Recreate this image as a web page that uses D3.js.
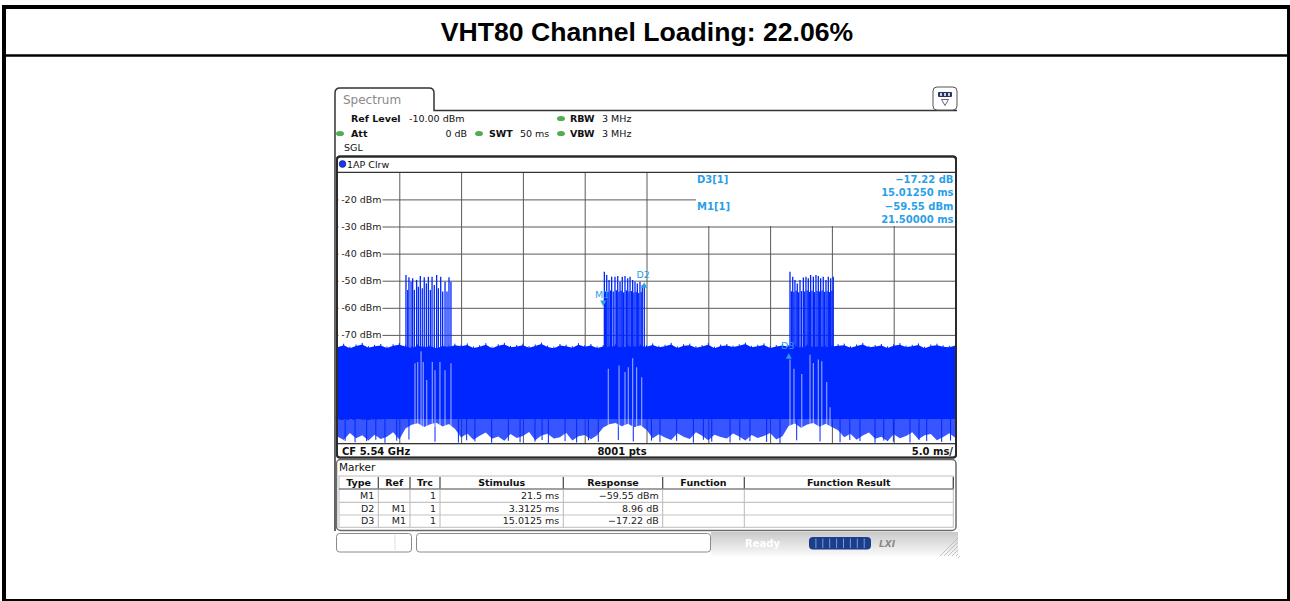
<!DOCTYPE html>
<html>
<head>
<meta charset="utf-8">
<script src="https://cdn.jsdelivr.net/npm/d3@7"></script>
<style>
  body { margin: 0; background: #fff; }
  svg { display: block; }
  text { font-family: "DejaVu Sans", Verdana, sans-serif; }
</style>
</head>
<body>
<svg id="chart" width="1290" height="601"></svg>
<script>
// ---- data ----
const title = 'VHT80 Channel Loading: 22.06%';
const sweepMs = [0, 50];           // 10 div x 5.0 ms
const levelDbm = [-10, -110];      // ref level, 10 div x 10 dB
const levelTicks = [-20, -30, -40, -50, -60, -70, -80, -90, -100];
const timeTicks = [5, 10, 15, 20, 25, 30, 35, 40, 45];

// noise floor envelope, sampled every 0.5 ms (0 .. 50 ms)
const noiseStep = 0.5;
const noiseTop = [
  -74.6,-73.8,-74.9,-74.1,-73.5,-74.7,-74.2,-73.9,-74.8,-74.0,-73.6,
  -74.3,-74.8,-74.0,-74.6,-74.2,-74.9,-74.1,-74.5,-73.8,
  -74.2,-73.7,-74.8,-74.4,-73.6,-74.9,-74.0,-73.5,-74.6,-74.3,-73.8,-74.7,-74.1,-73.4,-74.5,-74.9,-73.9,-74.2,-74.7,-73.6,-74.4,-73.9,-74.8,
  -74.3,-74.6,-74.0,-74.7,-74.2,-74.5,-74.1,-74.4,
  -73.7,-74.6,-74.2,-73.5,-74.8,-74.0,-73.8,-74.7,-74.3,-73.6,-74.9,-74.1,-73.9,-74.5,-74.0,-73.4,-74.6,-74.2,-73.7,-74.8,-74.3,-73.9,
  -74.4,-74.1,-74.7,-74.0,-74.5,-74.2,-74.6,-74.3,-74.0,
  -73.8,-74.7,-74.1,-73.5,-74.6,-74.3,-73.9,-74.8,-74.0,-73.6,-74.5,-74.2,-73.7,-74.9,-74.1,-73.8,-74.4,-74.6,-73.9
];
const denseFloor = -101;
const noiseLow = [
  -107.5,-108.8,-106.2,-108.1,-107.0,-109.0,-106.8,-108.4,-107.6,-105.9,-108.6,
  -104.5,-103.2,-102.6,-104.0,-103.0,-102.4,-103.8,-102.9,-104.6,
  -107.9,-106.4,-108.7,-107.2,-106.0,-108.3,-107.5,-109.1,-106.6,-108.0,-107.3,-105.8,-108.9,-107.1,-106.5,-108.2,-107.8,-106.1,-109.0,-107.4,-106.9,-108.5,-107.0,
  -104.2,-103.0,-102.5,-103.7,-102.8,-104.1,-103.3,-105.0,
  -108.1,-106.7,-107.9,-108.8,-106.3,-107.6,-108.4,-105.9,-107.2,-108.9,-106.8,-107.7,-108.2,-106.4,-107.5,-109.0,-106.9,-108.0,-107.3,-106.2,-108.6,-107.4,
  -103.6,-102.7,-104.3,-103.1,-102.5,-103.9,-102.8,-104.0,-105.2,
  -107.8,-106.5,-108.7,-107.1,-106.0,-108.3,-107.6,-109.2,-106.7,-108.1,-107.3,-105.9,-108.5,-107.0,-106.6,-108.9,-107.7,-106.3,-108.0
];
// single deep dips of the noise [ms, dBm]
const deepDips = [
  [0.62,-109.1],[1.42,-109.6],[2.36,-109.2],[3.10,-108.7],[3.84,-109.8],[4.79,-109.0],[5.78,-108.6],[7.89,-109.4],[9.78,-109.7],
  [10.45,-108.9],[11.12,-109.3],[12.47,-109.8],[13.82,-109.1],[14.77,-109.6],[15.98,-109.4],[16.55,-108.8],[17.06,-109.9],[18.41,-109.2],
  [19.35,-109.7],[20.30,-108.9],[21.1,-109.5],[22.72,-108.8],[23.93,-109.3],[25.40,-109.0],[26.09,-109.6],[27.44,-109.1],[28.79,-109.8],
  [29.60,-108.7],[30.28,-109.4],[31.76,-109.7],[32.55,-108.9],[33.37,-109.2],[34.72,-109.5],[35.8,-109.9],[37.15,-108.9],[39.04,-109.3],
  [40.66,-109.6],[41.45,-108.8],[42.27,-109.2],[43.49,-109.8],[44.20,-109.0],[44.97,-109.4],[46.32,-109.7],[47.05,-108.8],[47.67,-109.1],
  [48.88,-109.5],[49.60,-109.0]
];

// packet bursts: [ms, peak dBm]
const burst1 = [
  [5.54,-47.9],[5.68,-53.4],[5.78,-48.7],[5.95,-50.4],[6.08,-49.1],[6.22,-53.4],[6.40,-49.7],[6.54,-52.2],
  [6.70,-48.3],[6.86,-52.8],[7.02,-48.7],[7.19,-51.0],[7.35,-48.5],[7.51,-53.4],[7.65,-48.5],[7.83,-51.6],
  [8.02,-47.9],[8.16,-52.8],[8.35,-48.5],[8.51,-54.0],[8.70,-50.4],[8.86,-54.0],[9.02,-48.7],[9.18,-50.4]
];
const burst2 = [
  [21.59,-46.7],[21.69,-53.8],[21.78,-47.9],[21.88,-54.2],[21.97,-49.7],[22.08,-53.6],[22.18,-48.5],[22.31,-54.0],
  [22.45,-48.5],[22.56,-53.5],[22.67,-48.3],[22.77,-54.1],[22.86,-50.4],[22.95,-53.7],[23.04,-48.5],[23.15,-54.3],
  [23.26,-48.3],[23.37,-53.6],[23.48,-49.1],[23.58,-54.0],[23.67,-48.5],[23.78,-53.8],[23.88,-49.7],[23.98,-54.4],
  [24.07,-50.4],[24.17,-54.1],[24.26,-51.0],[24.37,-54.5],[24.47,-50.4],[24.57,-54.2],[24.66,-51.6],[24.82,-52.2]
];
const burst3 = [
  [36.61,-46.7],[36.72,-53.9],[36.83,-48.5],[36.92,-54.2],[37.01,-49.7],[37.11,-53.7],[37.20,-51.0],[37.31,-54.3],
  [37.42,-49.7],[37.55,-53.8],[37.69,-48.8],[37.80,-54.0],[37.90,-48.5],[38.00,-53.6],[38.09,-49.1],[38.18,-54.1],
  [38.28,-47.9],[38.39,-53.7],[38.50,-48.5],[38.60,-54.2],[38.71,-47.9],[38.80,-53.8],[38.90,-48.3],[39.00,-54.0],
  [39.09,-49.1],[39.20,-53.6],[39.30,-48.5],[39.41,-54.1],[39.52,-49.7],[39.61,-53.9],[39.71,-48.5],[39.80,-54.2],
  [39.90,-49.1],[40.00,-53.7],[40.11,-48.5]
];
// lighter columns inside the noise band during bursts [ms, top dBm]
const burstGaps = [
  [6.27,-80.5],[6.49,-80.0],[6.76,-76.0],[6.94,-80.0],[7.22,-86.6],[7.67,-80.0],[7.89,-83.0],[8.29,-80.0],[8.70,-83.0],[9.18,-80.5],
  [21.91,-82.5],[22.78,-81.3],[23.26,-83.7],[23.53,-81.9],[23.88,-78.6],[24.20,-81.9],[24.61,-85.6],
  [36.61,-79.1],[36.93,-82.5],[37.56,-84.4],[38.23,-77.3],[38.50,-80.4],[38.90,-79.1],[39.18,-79.7],[39.58,-87.4],[39.85,-96.7]
];

// markers
const markers = [
  { name: 'M1', t: 21.5, level: -59.55, kind: 'abs' },
  { name: 'D2', t: 21.5 + 3.3125, level: -59.55 + 8.96, kind: 'delta' },
  { name: 'D3', t: 21.5 + 15.0125, level: -59.55 - 17.22, kind: 'delta' }
];
const markerInfoLeft = ['D3[1]', '', 'M1[1]', ''];
const markerInfoRight = ['\u221217.22 dB', '15.01250 ms', '\u221259.55 dBm', '21.50000 ms'];

// marker table
const tableHeads = ['Type', 'Ref', 'Trc', 'Stimulus', 'Response', 'Function', 'Function Result'];
const tableRows = [
  ['M1', '', '1', '21.5 ms', '\u221259.55 dBm', '', ''],
  ['D2', 'M1', '1', '3.3125 ms', '8.96 dB', '', ''],
  ['D3', 'M1', '1', '15.0125 ms', '\u221217.22 dB', '', '']
];

// instrument settings text
const settings = { ref: '-10.00 dBm', att: '0 dB', swt: '50 ms', rbw: '3 MHz', vbw: '3 MHz' };
const footer = { cf: 'CF 5.54 GHz', pts: '8001 pts', div: '5.0 ms/' };

// ---- drawing ----
const svg = d3.select('#chart');
const TRACE = '#0026ff';
const MK = '#2c9fe6';
const GRID = '#5a5a5a';

const x = d3.scaleLinear().domain(sweepMs).range([337.5, 955.5]);
const y = d3.scaleLinear().domain(levelDbm).range([172.3, 443.3]);

// outer page frame + title
svg.append('rect').attr('x', 4).attr('y', 7).attr('width', 1285).attr('height', 594)
  .attr('fill', '#fff').attr('stroke', '#000').attr('stroke-width', 4);
svg.append('line').attr('x1', 4).attr('x2', 1289).attr('y1', 55.5).attr('y2', 55.5)
  .attr('stroke', '#000').attr('stroke-width', 2.5);
svg.append('text').attr('x', 647).attr('y', 40.5).attr('text-anchor', 'middle')
  .style('font-family', '"Liberation Sans", Arial, sans-serif')
  .attr('font-weight', 'bold').attr('font-size', 26.6).text(title);

// tab outline
svg.append('path')
  .attr('d', 'M335,531 V93 Q335,88 340,88 H429 Q434,88 434,93 V110.5 H957')
  .attr('fill', 'none').attr('stroke', '#333').attr('stroke-width', 1.5);
svg.append('text').attr('x', 343).attr('y', 104).attr('font-size', 12).attr('fill', '#8a8a8a').text('Spectrum');

// top-right icon
const icon = svg.append('g');
icon.append('rect').attr('x', 933).attr('y', 87).attr('width', 24).attr('height', 23).attr('rx', 4)
  .attr('fill', '#fff').attr('stroke', '#555').attr('stroke-width', 1);
icon.append('rect').attr('x', 938).attr('y', 92).attr('width', 14).attr('height', 5).attr('rx', 1).attr('fill', '#2a3560');
[941, 945, 949].forEach(v => icon.append('rect').attr('x', v - 1).attr('y', 93).attr('width', 2).attr('height', 3).attr('fill', '#c8d0e8'));
icon.append('path').attr('d', 'M941.5,99.5 L948.5,99.5 L945,105.5 Z').attr('fill', 'none').attr('stroke', '#556').attr('stroke-width', 0.9);

// settings header
const hdr = svg.append('g').attr('font-size', 9.5).attr('fill', '#111');
const dot = (cx, cy) => svg.append('ellipse').attr('cx', cx).attr('cy', cy).attr('rx', 4).attr('ry', 2.6).attr('fill', '#52ad52');
hdr.append('text').attr('x', 351).attr('y', 122).attr('font-weight', 'bold').text('Ref Level');
hdr.append('text').attr('x', 409).attr('y', 122).text(settings.ref);
dot(561, 118.5);
hdr.append('text').attr('x', 570).attr('y', 122).attr('font-weight', 'bold').text('RBW');
hdr.append('text').attr('x', 602).attr('y', 122).text(settings.rbw);
dot(340, 133.5);
hdr.append('text').attr('x', 351).attr('y', 137).attr('font-weight', 'bold').text('Att');
hdr.append('text').attr('x', 467).attr('y', 137).attr('text-anchor', 'end').text(settings.att);
dot(479, 133.5);
hdr.append('text').attr('x', 489).attr('y', 137).attr('font-weight', 'bold').text('SWT');
hdr.append('text').attr('x', 520).attr('y', 137).text(settings.swt);
dot(561, 133.5);
hdr.append('text').attr('x', 570).attr('y', 137).attr('font-weight', 'bold').text('VBW');
hdr.append('text').attr('x', 602).attr('y', 137).text(settings.vbw);
hdr.append('text').attr('x', 344).attr('y', 151).text('SGL');

// trace panel
svg.append('rect').attr('x', 337).attr('y', 156.5).attr('width', 619).attr('height', 301).attr('rx', 3)
  .attr('fill', '#fff').attr('stroke', '#2a2a2a').attr('stroke-width', 2);
svg.append('circle').attr('cx', 342.5).attr('cy', 164).attr('r', 3.4).attr('fill', '#1a36e6').attr('stroke', '#10208a').attr('stroke-width', 0.6);
svg.append('text').attr('x', 347).attr('y', 167.5).attr('font-size', 9.5).attr('fill', '#111').text('1AP Clrw');

const plot = svg.append('g');
// grid via axes
plot.append('g').attr('transform', `translate(0,${y(levelDbm[1])})`)
  .call(d3.axisTop(x).tickValues(timeTicks).tickSize(y(levelDbm[1]) - y(levelDbm[0])).tickFormat(''))
  .call(g => g.select('.domain').remove())
  .call(g => g.selectAll('line').attr('stroke', GRID));
plot.append('g').attr('transform', `translate(${x(sweepMs[0])},0)`)
  .call(d3.axisRight(y).tickValues(levelTicks).tickSize(x(sweepMs[1]) - x(sweepMs[0])).tickFormat(''))
  .call(g => g.select('.domain').remove())
  .call(g => g.selectAll('line').attr('stroke', GRID));

// level labels with white backing
const lab = plot.selectAll('g.lvl').data(levelTicks).join('g').attr('class', 'lvl')
  .attr('transform', d => `translate(0,${y(d)})`);
lab.append('rect').attr('x', 338.5).attr('y', -5.5).attr('width', 44).attr('height', 11).attr('fill', '#fff');
lab.append('text').attr('x', 381.5).attr('y', 3.5).attr('text-anchor', 'end').attr('font-size', 9.5).attr('fill', '#222')
  .text(d => `${d} dBm`);

// plot frame lines
plot.append('line').attr('x1', 337).attr('x2', 956).attr('y1', y(levelDbm[0])).attr('y2', y(levelDbm[0]))
  .attr('stroke', '#333').attr('stroke-width', 1.2);

// ---- trace ----
const trace = svg.append('g');
const tIdx = i => i * noiseStep;
// dense part of the noise band
trace.append('path')
  .datum(noiseTop)
  .attr('d', d3.area().x((d, i) => x(tIdx(i))).y0(y(denseFloor)).y1(d => y(d)))
  .attr('fill', TRACE);
// grass on the top edge
trace.selectAll('line.tip').data(noiseTop).join('line').attr('class', 'tip')
  .attr('x1', (d, i) => x(tIdx(i))).attr('x2', (d, i) => x(tIdx(i)))
  .attr('y1', d => y(d) + 2).attr('y2', d => y(d) - 1.5)
  .attr('stroke', TRACE).attr('stroke-width', 1);
// ragged lower part
trace.append('path')
  .datum(noiseLow)
  .attr('d', d3.area().x((d, i) => x(tIdx(i))).y0(y(denseFloor) - 0.5).y1(d => y(d)))
  .attr('fill', TRACE).attr('fill-opacity', 0.78);
// deep dips
trace.selectAll('line.dip').data(deepDips).join('line').attr('class', 'dip')
  .attr('x1', d => x(d[0])).attr('x2', d => x(d[0]))
  .attr('y1', y(denseFloor)).attr('y2', d => y(d[1]))
  .attr('stroke', TRACE).attr('stroke-width', 1);
// lighter columns in the band during bursts
trace.selectAll('line.gap').data(burstGaps).join('line').attr('class', 'gap')
  .attr('x1', d => x(d[0])).attr('x2', d => x(d[0]))
  .attr('y1', d => y(d[1])).attr('y2', y(-104))
  .attr('stroke', '#fff').attr('stroke-opacity', 0.55).attr('stroke-width', 1.2);
// bursts
[burst1, burst2, burst3].forEach((b, k) => {
  trace.selectAll(`line.b${k}`).data(b).join('line').attr('class', `b${k}`)
    .attr('x1', d => x(d[0])).attr('x2', d => x(d[0]))
    .attr('y1', y(-75.5)).attr('y2', d => y(d[1]))
    .attr('stroke', TRACE).attr('stroke-width', 1.3);
});

// markers
const mk = svg.append('g').attr('fill', MK);
markers.forEach(m => {
  const px = x(m.t), py = y(m.level);
  if (m.kind === 'abs') {
    mk.append('path').attr('d', `M${px - 3},${py - 6} L${px + 3},${py - 6} L${px},${py} Z`);
    mk.append('text').attr('x', px - 1).attr('y', py - 9).attr('text-anchor', 'middle').attr('font-size', 9.5).text(m.name);
  } else {
    mk.append('path').attr('d', `M${px},${py} L${px + 3},${py + 5.5} L${px - 3},${py + 5.5} Z`);
    mk.append('text').attr('x', px - 1).attr('y', py - 4.5).attr('text-anchor', 'middle').attr('font-size', 9.5).text(m.name);
  }
});

// marker info box
svg.append('rect').attr('x', 696).attr('y', 173).attr('width', 259).attr('height', 53).attr('fill', '#fff');
const info = svg.append('g').attr('font-size', 10).attr('font-weight', 'bold').attr('fill', MK);
markerInfoLeft.forEach((s, i) => info.append('text').attr('x', 697).attr('y', 183 + i * 13.4).text(s));
markerInfoRight.forEach((s, i) => info.append('text').attr('x', 953.5).attr('y', 183 + i * 13.4).attr('text-anchor', 'end').text(s));

// footer of trace panel
svg.append('line').attr('x1', 337).attr('x2', 956).attr('y1', 443.8).attr('y2', 443.8).attr('stroke', '#333').attr('stroke-width', 1.6);
svg.append('rect').attr('x', 338).attr('y', 444.6).attr('width', 617).attr('height', 12).attr('fill', '#fff');
const ft = svg.append('g').attr('font-size', 10).attr('font-weight', 'bold').attr('fill', '#111');
ft.append('text').attr('x', 342).attr('y', 454.5).text(footer.cf);
ft.append('text').attr('x', 622).attr('y', 454.5).attr('text-anchor', 'middle').text(footer.pts);
ft.append('text').attr('x', 953).attr('y', 454.5).attr('text-anchor', 'end').text(footer.div);
// redraw panel border on top
svg.append('rect').attr('x', 337).attr('y', 156.5).attr('width', 619).attr('height', 301).attr('rx', 3)
  .attr('fill', 'none').attr('stroke', '#2a2a2a').attr('stroke-width', 2);

// marker table panel
svg.append('rect').attr('x', 336.5).attr('y', 459.5).attr('width', 619.5).attr('height', 71).attr('rx', 4)
  .attr('fill', '#fff').attr('stroke', '#6a6a6a').attr('stroke-width', 1.5);
svg.append('text').attr('x', 339).attr('y', 471).attr('font-size', 10.5).attr('fill', '#111').text('Marker');
const colEdges = [339, 378.3, 410, 440, 563.3, 662.7, 744.3, 953.3];
const rowTops = [476, 489.5, 502.3, 515, 527.3];
const tbl = svg.append('g');
tbl.append('rect').attr('x', colEdges[0]).attr('y', rowTops[0]).attr('width', colEdges[7] - colEdges[0])
  .attr('height', rowTops[4] - rowTops[0]).attr('fill', '#fff').attr('stroke', '#bdbdbd').attr('stroke-width', 1);
rowTops.slice(2, 4).forEach(r => tbl.append('line').attr('x1', colEdges[0]).attr('x2', colEdges[7]).attr('y1', r).attr('y2', r)
  .attr('stroke', '#c4c4c4').attr('stroke-width', 1.2));
tbl.append('line').attr('x1', colEdges[0]).attr('x2', colEdges[7]).attr('y1', rowTops[1] - 0.5).attr('y2', rowTops[1] - 0.5)
  .attr('stroke', '#444').attr('stroke-width', 1.2);
colEdges.slice(1, 7).forEach(c => {
  tbl.append('line').attr('x1', c).attr('x2', c).attr('y1', rowTops[0] + 1).attr('y2', rowTops[1] - 1)
    .attr('stroke', '#444').attr('stroke-width', 1.2);
  tbl.append('line').attr('x1', c).attr('x2', c).attr('y1', rowTops[1]).attr('y2', rowTops[4])
    .attr('stroke', '#b8b8b8').attr('stroke-width', 1);
});
tbl.append('line').attr('x1', colEdges[7]).attr('x2', colEdges[7]).attr('y1', rowTops[0] + 1).attr('y2', rowTops[1] - 1)
  .attr('stroke', '#444').attr('stroke-width', 1.2);
tableHeads.forEach((h, i) => tbl.append('text')
  .attr('x', (colEdges[i] + colEdges[i + 1]) / 2).attr('y', 485.5).attr('text-anchor', 'middle')
  .attr('font-size', 9.5).attr('font-weight', 'bold').attr('fill', '#111').text(h));
tableRows.forEach((row, r) => row.forEach((cell, i) => {
  if (!cell) return;
  tbl.append('text').attr('x', colEdges[i + 1] - 4).attr('y', 499 + r * 12.6).attr('text-anchor', 'end')
    .attr('font-size', 9.5).attr('fill', '#222').text(cell);
}));

// status bar
const defs = svg.append('defs');
const grad = defs.append('linearGradient').attr('id', 'sb').attr('x1', 0).attr('x2', 0).attr('y1', 0).attr('y2', 1);
grad.append('stop').attr('offset', 0).attr('stop-color', '#c9c9c9');
grad.append('stop').attr('offset', 1).attr('stop-color', '#fbfbfb');
svg.append('rect').attr('x', 711).attr('y', 532).attr('width', 247).attr('height', 24).attr('fill', 'url(#sb)');
svg.append('rect').attr('x', 336.5).attr('y', 533.5).attr('width', 75).attr('height', 18.5).attr('rx', 3)
  .attr('fill', '#fff').attr('stroke', '#8a8a8a').attr('stroke-width', 1);
svg.append('line').attr('x1', 395).attr('x2', 395).attr('y1', 535).attr('y2', 550).attr('stroke', '#ddd');
svg.append('rect').attr('x', 416.5).attr('y', 533.5).attr('width', 294).attr('height', 18.5).attr('rx', 3)
  .attr('fill', '#fff').attr('stroke', '#8a8a8a').attr('stroke-width', 1);
svg.append('text').attr('x', 745).attr('y', 547).attr('font-size', 10).attr('font-weight', 'bold').attr('fill', '#fff').text('Ready');
svg.append('rect').attr('x', 809).attr('y', 537).attr('width', 62).attr('height', 12.5).attr('rx', 4).attr('fill', '#1b3d8c');
d3.range(1, 9).forEach(k => svg.append('line').attr('x1', 809 + k * 6.9).attr('x2', 809 + k * 6.9).attr('y1', 538.5).attr('y2', 548)
  .attr('stroke', '#7f9ad6').attr('stroke-width', 1));
svg.append('text').attr('x', 879).attr('y', 547).attr('font-size', 9).attr('font-weight', 'bold').attr('font-style', 'italic')
  .attr('fill', '#8a8a8a').text('LXI');
d3.range(0, 6).forEach(k => svg.append('line').attr('x1', 940 + k * 4).attr('y1', 556).attr('x2', 958).attr('y2', 538 + k * 4)
  .attr('stroke', '#b5b5b5').attr('stroke-width', 0.8));
</script>
</body>
</html>
